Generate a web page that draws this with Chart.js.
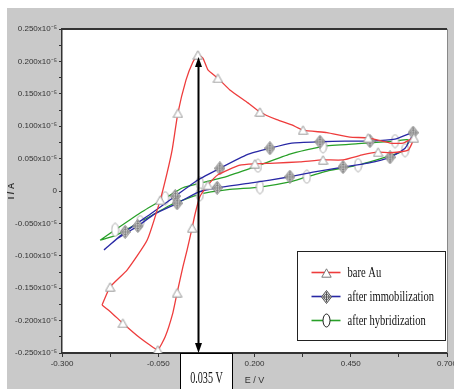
<!DOCTYPE html>
<html>
<head>
<meta charset="utf-8">
<script src="https://cdn.jsdelivr.net/npm/chart.js@4.4.1/dist/chart.umd.min.js"></script>
<style>
  html, body { margin: 0; padding: 0; background: #fff; }
  canvas { display: block; }
</style>
</head>
<body>
<canvas id="cv" width="454" height="389"></canvas>
<script>
// potential (V) and current (x10^-5 A)
let eRed = [-0.196, -0.175, -0.131, -0.079, -0.045, -0.027, -0.014, 0.001, 0.022, 0.040,
    0.053, 0.066, 0.079, 0.105, 0.136, 0.183, 0.214, 0.258, 0.297, 0.326,
    0.388, 0.448, 0.495, 0.552, 0.586, 0.614, 0.599, 0.552, 0.521, 0.482,
    0.430, 0.378, 0.318, 0.253, 0.201, 0.162, 0.105, 0.079, 0.058, 0.045,
    0.038, 0.025, 0.014, -0.001, -0.012, -0.032, -0.051, -0.071, -0.097, -0.142,
    -0.173, -0.196];
let iRed = [-0.176, -0.148, -0.122, -0.076, -0.014, 0.028, 0.063, 0.120, 0.171, 0.199,
    0.210, 0.205, 0.187, 0.174, 0.156, 0.136, 0.122, 0.110, 0.102, 0.094,
    0.090, 0.083, 0.082, 0.074, 0.074, 0.082, 0.063, 0.059, 0.060, 0.056,
    0.048, 0.048, 0.045, 0.043, 0.042, 0.040, 0.025, 0.009, -0.009, -0.037,
    -0.057, -0.091, -0.117, -0.157, -0.188, -0.225, -0.245, -0.238, -0.227, -0.204,
    -0.187, -0.176];

let eBlue = [-0.191, -0.136, -0.071, -0.006, 0.053, 0.110, 0.181, 0.240, 0.297, 0.370,
    0.435, 0.500, 0.565, 0.612, 0.591, 0.552, 0.495, 0.430, 0.352, 0.292,
    0.188, 0.103, 0.053, -0.001, -0.058, -0.103, -0.155, -0.191];
let iBlue = [-0.091, -0.063, -0.036, -0.008, 0.017, 0.035, 0.056, 0.066, 0.074, 0.076,
    0.077, 0.077, 0.080, 0.090, 0.066, 0.052, 0.043, 0.037, 0.029, 0.022,
    0.012, 0.005, -0.002, -0.019, -0.035, -0.054, -0.073, -0.091];

let eGreen = [-0.201, -0.162, -0.092, -0.032, 0.014, 0.058, 0.131, 0.209, 0.292, 0.378,
    0.469, 0.565, 0.599, 0.591, 0.534, 0.469, 0.396, 0.336, 0.292, 0.214,
    0.131, 0.058, -0.019, -0.097, -0.162, -0.201];
let iGreen = [-0.076, -0.060, -0.032, -0.011, 0.005, 0.012, 0.023, 0.039, 0.057, 0.069,
    0.073, 0.077, 0.079, 0.063, 0.051, 0.040, 0.032, 0.022, 0.014, 0.006,
    0.002, -0.005, -0.022, -0.048, -0.069, -0.076];

let seriesNames = ['bare Au', 'after immobilization', 'after hybridization'];
let lineColors = ['rgb(238, 60, 60)', 'rgb(40, 40, 165)', 'rgb(40, 160, 40)'];
let peakLabel = '0.035 V';

function toPoints(xs, ys) {
    return xs.map((x, i) => ({ x: x, y: ys[i] }));
}

// marker glyphs
function makeTri(stroke) {
    const c = document.createElement('canvas');
    c.width = 11; c.height = 10;
    const g = c.getContext('2d');
    g.beginPath();
    g.moveTo(5.5, 0.8); g.lineTo(10.2, 9.2); g.lineTo(0.8, 9.2); g.closePath();
    g.fillStyle = '#fff'; g.fill();
    g.strokeStyle = stroke; g.lineWidth = 1; g.stroke();
    return c;
}
function makeCross(stroke) {
    const c = document.createElement('canvas');
    c.width = 11; c.height = 14;
    const g = c.getContext('2d');
    g.beginPath();
    g.moveTo(5.5, 0.5); g.lineTo(10.5, 7); g.lineTo(5.5, 13.5); g.lineTo(0.5, 7); g.closePath();
    g.fillStyle = '#d8d8d8'; g.fill();
    g.strokeStyle = stroke; g.lineWidth = 1; g.stroke();
    g.beginPath();
    g.arc(5.5, 7, 2.6, 0, Math.PI * 2);
    g.fillStyle = '#fff'; g.fill(); g.stroke();
    g.beginPath();
    g.moveTo(5.5, 2); g.lineTo(5.5, 12);
    g.moveTo(1.5, 7); g.lineTo(9.5, 7);
    g.stroke();
    return c;
}
function makeOval(stroke) {
    const c = document.createElement('canvas');
    c.width = 9; c.height = 15;
    const g = c.getContext('2d');
    g.beginPath();
    g.ellipse(4.5, 7.5, 3.5, 6.5, 0, 0, Math.PI * 2);
    g.fillStyle = '#fff'; g.fill();
    g.strokeStyle = stroke; g.lineWidth = 1; g.stroke();
    return c;
}
const markers = [makeTri('#999'), makeCross('#777'), makeOval('#aaa')];
const legendMarkers = [makeTri('#777'), makeCross('#555'), makeOval('#222')];

function markerEvery(n) {
    return function (ctx) {
        const len = ctx.dataset.data.length;
        return (ctx.dataIndex % n === 1 && ctx.dataIndex < len - 1) ? 5 : 0;
    };
}

const datasets = [
    { data: toPoints(eRed, iRed), every: 3 },
    { data: toPoints(eBlue, iBlue), every: 2 },
    { data: toPoints(eGreen, iGreen), every: 2 }
].map((d, k) => ({
    label: seriesNames[k],
    data: d.data,
    showLine: true,
    borderColor: lineColors[k],
    borderWidth: 1.3,
    tension: 0.15,
    pointStyle: markers[k],
    pointRadius: markerEvery(d.every),
    pointHoverRadius: 0
}));

const bgPlugin = {
    id: 'bg',
    beforeDraw(chart) {
        const c = chart.ctx, a = chart.chartArea;
        c.save();
        c.fillStyle = '#fff';
        c.fillRect(0, 0, chart.width, chart.height);
        c.fillStyle = '#c9c9c9';
        c.fillRect(7, 8, chart.width - 7, chart.height - 8);
        c.fillStyle = '#fff';
        c.fillRect(a.left, a.top, a.right - a.left, a.bottom - a.top);
        c.restore();
    },
    afterDraw(chart) {
        const c = chart.ctx, a = chart.chartArea;
        const xs = chart.scales.x, ys = chart.scales.y;
        c.save();
        // frame
        c.strokeStyle = '#333';
        c.lineWidth = 2;
        c.beginPath(); c.moveTo(a.left, a.top); c.lineTo(a.right, a.top); c.stroke();
        c.lineWidth = 1;
        c.strokeStyle = '#888';
        c.beginPath(); c.moveTo(a.right + 0.5, a.top); c.lineTo(a.right + 0.5, a.bottom); c.stroke();

        // peak arrow
        let pk = 0;
        iRed.forEach((v, i) => { if (v > iRed[pk]) pk = i; });
        const ax = Math.round(xs.getPixelForValue(eRed[pk])) + 0.5;
        const top = ys.getPixelForValue(iRed[pk]) + 2;
        const bot = a.bottom;
        c.strokeStyle = '#000';
        c.fillStyle = '#000';
        c.lineWidth = 2;
        c.beginPath(); c.moveTo(ax, top + 8); c.lineTo(ax, bot - 8); c.stroke();
        c.beginPath(); c.moveTo(ax, top); c.lineTo(ax + 3.5, top + 10); c.lineTo(ax - 3.5, top + 10); c.closePath(); c.fill();
        c.beginPath(); c.moveTo(ax, bot); c.lineTo(ax + 3.5, bot - 10); c.lineTo(ax - 3.5, bot - 10); c.closePath(); c.fill();

        // value box
        const bx = Math.round(ax - 19) + 0.5, bw = 52;
        const by = a.bottom + 0.5;
        c.fillStyle = '#fff';
        c.fillRect(bx, by, bw, chart.height - by);
        c.strokeStyle = '#000';
        c.lineWidth = 1;
        c.strokeRect(bx, by, bw, chart.height - by + 2);
        c.save();
        c.translate(bx + bw / 2, by + 29);
        c.scale(0.78, 1.35);
        c.fillStyle = '#111';
        c.font = '13px "Liberation Serif", "Times New Roman", serif';
        c.textAlign = 'center';
        c.textBaseline = 'alphabetic';
        c.fillText(peakLabel, 0, 0);
        c.restore();

        // legend
        const lx = 297.5, ly = 251.5, lw = 148, lh = 89;
        c.fillStyle = '#fff';
        c.fillRect(lx, ly, lw, lh);
        c.strokeStyle = '#222';
        c.strokeRect(lx, ly, lw, lh);
        chart.data.datasets.forEach((ds, k) => {
            const yy = ly + 21 + k * 24;
            c.strokeStyle = ds.borderColor;
            c.lineWidth = 1.6;
            c.beginPath(); c.moveTo(lx + 14, yy); c.lineTo(lx + 43, yy); c.stroke();
            const m = legendMarkers[k];
            c.drawImage(m, Math.round(lx + 28.5 - m.width / 2), Math.round(yy - m.height / 2));
            c.save();
            c.translate(lx + 50, yy + 4);
            c.scale(0.88, 1.15);
            c.fillStyle = '#111';
            c.font = '12px "Liberation Serif", "Times New Roman", serif';
            c.textAlign = 'left';
            c.fillText(ds.label, 0, 0);
            c.restore();
        });
        c.restore();
    }
};

function isMajor(v, step) {
    return Math.abs(Math.round(v / step) * step - v) < 1e-6;
}

const config = {
    type: 'scatter',
    data: { datasets: datasets },
    options: {
        responsive: false,
        animation: false,
        events: [],
        layout: { padding: { top: 29, right: 7, left: 0, bottom: 0 } },
        plugins: { legend: { display: false }, tooltip: { enabled: false } },
        scales: {
            x: {
                type: 'linear',
                min: -0.3,
                max: 0.7,
                afterFit(s) { s.height = 36; s.paddingLeft = 0; s.paddingRight = 0; },
                ticks: {
                    stepSize: 0.125,
                    autoSkip: false,
                    maxRotation: 0,
                    padding: 2,
                    color: '#333',
                    font: { family: '"Liberation Sans", Arial, sans-serif', size: 8 },
                    callback: v => isMajor(v + 0.3, 0.25) ? v.toFixed(3) : ''
                },
                grid: { drawOnChartArea: false, drawTicks: true, tickLength: 4, tickColor: '#333' },
                border: { display: true, color: '#333', width: 2 },
                title: {
                    display: true,
                    text: 'E / V',
                    color: '#333',
                    font: { family: '"Liberation Sans", Arial, sans-serif', size: 9 },
                    padding: { top: 0, bottom: 3 }
                }
            },
            y: {
                type: 'linear',
                min: -0.25,
                max: 0.25,
                afterFit(s) { s.width = 62; s.paddingTop = 0; s.paddingBottom = 0; },
                ticks: {
                    stepSize: 0.025,
                    autoSkip: false,
                    padding: 2,
                    color: '#333',
                    font: { family: '"Liberation Sans", Arial, sans-serif', size: 8 },
                    callback: v => {
                        if (!isMajor(v, 0.05)) return '';
                        if (Math.abs(v) < 1e-6) return '0';
                        return v.toFixed(3) + 'x10\u207B\u2075';
                    }
                },
                grid: { drawOnChartArea: false, drawTicks: true, tickLength: 3, tickColor: '#333' },
                border: { display: true, color: '#333', width: 1.5 },
                title: {
                    display: true,
                    text: 'I / A',
                    color: '#333',
                    font: { family: '"Liberation Sans", Arial, sans-serif', size: 9, weight: 'bold' },
                    padding: { top: 6, bottom: 0 }
                }
            }
        }
    },
    plugins: [bgPlugin]
};

const chart = new Chart(document.getElementById('cv'), config);
</script>
</body>
</html>
